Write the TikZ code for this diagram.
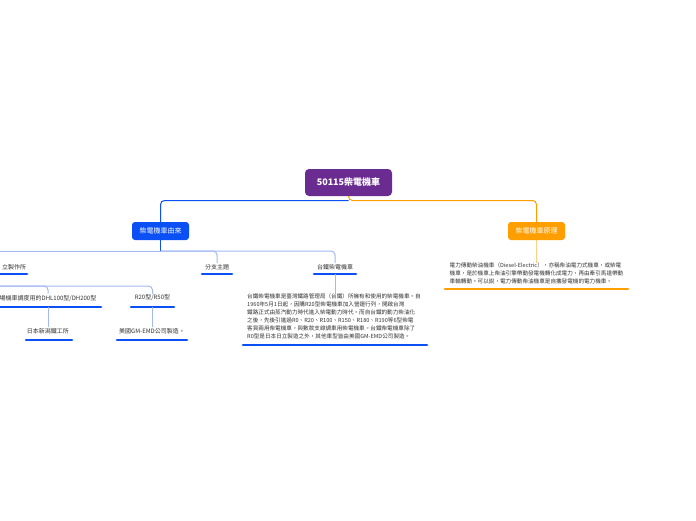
\documentclass[tikz,border=0pt]{standalone}
\usepackage{fontspec}
\setmainfont{Noto Sans CJK TC}
\definecolor{rootc}{HTML}{6A2C91}
\definecolor{mblue}{HTML}{0A50F5}
\definecolor{morange}{HTML}{FF9E00}
\definecolor{lblue}{HTML}{A3B9F7}
\definecolor{lorange}{HTML}{FFCF85}
\definecolor{textc}{HTML}{333333}
\begin{document}
\begin{tikzpicture}[x=1pt,y=-1pt,
  rootbox/.style={fill=rootc, rounded corners=4pt, text=white, font=\fontsize{9}{11}\selectfont\bfseries, minimum width=87pt, minimum height=27pt, inner sep=0pt},
  mainbox/.style={rounded corners=3pt, text=white, font=\fontsize{7}{8}\selectfont, minimum width=57pt, minimum height=18pt, inner sep=0pt},
  leaf/.style={font=\fontsize{6}{7}\selectfont, inner sep=1pt, text=textc},
  body/.style={font=\fontsize{5.6}{8}\selectfont, inner sep=0pt, text=textc, align=left},
  uline/.style={line width=2.6pt, line cap=round},
  bline/.style={draw=mblue, line width=1pt, rounded corners=4pt},
  lbline/.style={draw=lblue, line width=1pt, rounded corners=4pt},
  oline/.style={draw=morange, line width=1pt, rounded corners=4pt},
  loline/.style={draw=lorange, line width=1pt, rounded corners=4pt}]
\useasboundingbox (0,0) rectangle (696,520);
\clip (0,0) rectangle (696,520);
\fill[white] (0,0) rectangle (696,520);

% root and main branches
\node[rootbox] (root) at (348.5,182.5) {50115柴電機車};
\node[mainbox, fill=mblue] (orig) at (160.5,231) {柴電機車由來};
\node[mainbox, fill=morange] (prin) at (536.5,231) {柴電機車原理};
\coordinate (rj) at (348.5,200.5);
\draw[oline] (root.south) -- (rj) -| (prin.north);
\draw[bline] (rj) -| (orig.north);

% level 2 under 由來
\coordinate (oj) at (160.5,251);
\coordinate (ojl) at (-5,251);
\node[leaf, anchor=west] (hitachi) at (1,267) {立製作所};
\node[leaf] (branch) at (217,267) {分支主題};
\node[leaf] (tra) at (335,267) {台鐵柴電機車};
\draw[bline, rounded corners=0pt] (orig.south) -- (oj);
\draw[lbline] (oj) -| (branch.north);
\draw[lbline] (oj) -| (tra.north);
\draw[lbline] (oj) -- (ojl);
\draw[uline, mblue] (-3,274) -- (27,274);
\draw[uline, mblue] (202,274) -- (232,274);
\draw[uline, mblue] (314,274) -- (356,274);

% text under 台鐵柴電機車
\coordinate (traU) at (335,274);
\node[body, anchor=north west] (desc1) at (247,293.5) {台鐵柴電機車是臺灣鐵路管理局（台鐵）所擁有和使用的柴電機車。自\\
1960年5月1日起，因購R20型柴電機車加入營運行列，開啟台灣\\
鐵路正式由蒸汽動力時代進入柴電動力時代。而自台鐵的動力柴油化\\
之後，先後引進過R0、R20、R100、R150、R180、R190等6型柴電\\
客貨兩用柴電機車，與數款支線調車用柴電機車。台鐵柴電機車除了\\
R0型是日本日立製造之外，其他車型皆由美國GM-EMD公司製造。};
\draw[lbline] (traU) -- (traU |- desc1.north);
\draw[uline, mblue] (243,345) -- (427,345);

% level 3 on the left
\coordinate (hj) at (-5,286);
\node[leaf] (dhl) at (48,298) {場機車調度用的DHL100型/DH200型};
\node[leaf] (r20) at (152.5,298) {R20型/R50型};
\draw[lbline] (hj) -| (dhl.north);
\draw[lbline] (hj) -| (r20.north);
\draw[uline, mblue] (-3,307) -- (101,307);
\draw[uline, mblue] (131,307) -- (174,307);

\coordinate (dhlU) at (48,307);
\coordinate (r20U) at (152.5,307);
\node[leaf] (niigata) at (48,331) {日本新潟鐵工所};
\node[leaf] (gm) at (152,331) {美國GM-EMD公司製造。};
\draw[lbline] (dhlU) -- (niigata.north);
\draw[lbline] (r20U) -- (r20U |- gm.north);
\draw[uline, mblue] (26,340) -- (72,340);
\draw[uline, mblue] (117,340) -- (187,340);

% 原理 text
\node[body, anchor=north west] (desc2) at (449.5,262.5) {電力傳動柴油機車（Diesel-Electric），亦稱柴油電力式機車，或柴電\\
機車，是於機車上柴油引擎帶動發電機轉化成電力，再由牽引馬達帶動\\
車輪轉動。可以說，電力傳動柴油機車是自攜發電機的電力機車。};
\draw[loline] (prin.south) -- (prin.south |- desc2.north);
\draw[uline, morange] (445,289) -- (628,289);
\end{tikzpicture}
\end{document}
